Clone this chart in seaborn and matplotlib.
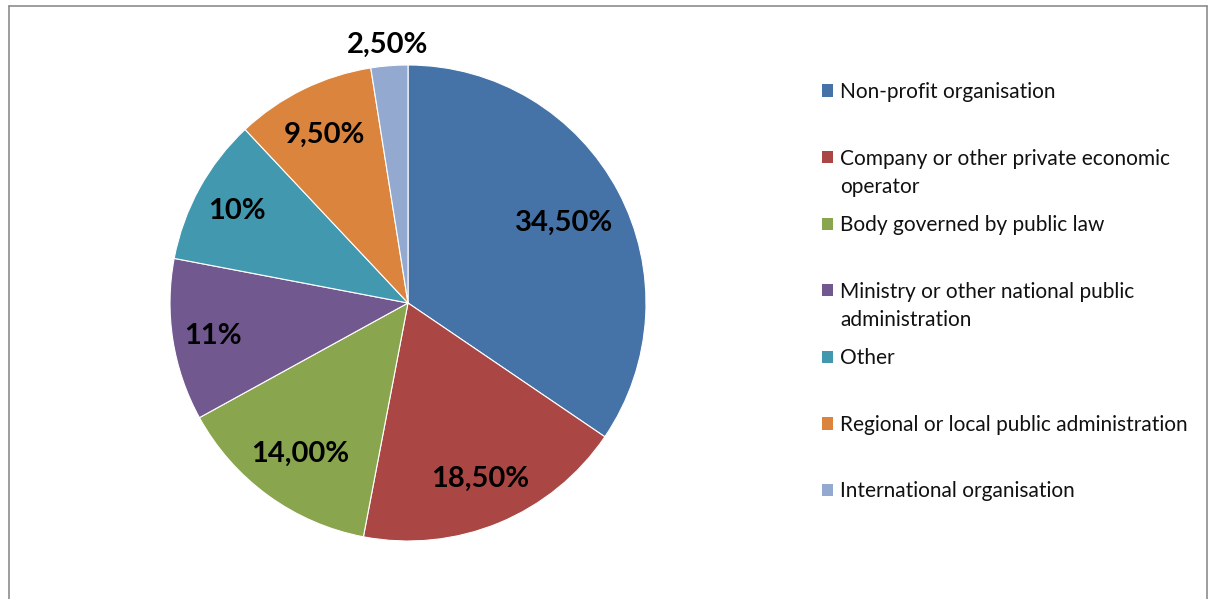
import matplotlib
matplotlib.use("Agg")
import matplotlib.pyplot as plt
import seaborn as sns
import numpy as np
from matplotlib.patches import Patch
from matplotlib.lines import Line2D

categories = [
    "Non-profit organisation",
    "Company or other private economic\noperator",
    "Body governed by public law",
    "Ministry or other national public\nadministration",
    "Other",
    "Regional or local public administration",
    "International organisation",
]
values = [34.5, 18.5, 14.0, 11.0, 10.0, 9.5, 2.5]
value_labels = ["34,50%", "18,50%", "14,00%", "11%", "10%", "9,50%", "2,50%"]
colors = ["#4572A7", "#AA4643", "#89A54E", "#71588F", "#4198AF", "#DB843D", "#93A9CF"]

sns.set_theme(style="white")
plt.rcParams["font.family"] = ["Lato", "DejaVu Sans"]

W, H = 1208, 599
fig = plt.figure(figsize=(W / 100, H / 100), dpi=100)

cx, cy, R = 408, 303, 238
ax = fig.add_axes([(cx - R) / W, (H - cy - R) / H, 2 * R / W, 2 * R / H])
wedges, _ = ax.pie(values, colors=sns.color_palette(colors), startangle=90,
                   counterclock=False, radius=1,
                   wedgeprops=dict(edgecolor="white", linewidth=0.8))
ax.set_xlim(-1, 1)
ax.set_ylim(-1, 1)
ax.set_aspect("equal")
ax.axis("off")

label_r = [0.74, 0.79, 0.77, 0.83, 0.82, 0.80, 1.10]
for w, lab, r in zip(wedges, value_labels, label_r):
    ang = np.deg2rad((w.theta1 + w.theta2) / 2)
    ax.text(r * np.cos(ang), r * np.sin(ang), lab, ha="center",
            va="center_baseline", fontsize=21, fontweight="bold", color="black")

first_lines = [c.split("\n")[0] for c in categories]
handles = [Patch(facecolor=c, edgecolor="none") for c in colors]
fs = 15
leg = fig.legend(handles, first_lines, loc="upper left",
                 bbox_to_anchor=(822 / W, 1 - 82 / H), frameon=False,
                 fontsize=fs, handlelength=0.53, handleheight=0.53,
                 handletextpad=0.34, labelspacing=2.235, borderpad=0,
                 borderaxespad=0)
for t in leg.get_texts():
    t.set_color("#111111")

fig.canvas.draw()
renderer = fig.canvas.get_renderer()
for t, c in zip(leg.get_texts(), categories):
    parts = c.split("\n")
    if len(parts) > 1:
        bb = t.get_window_extent(renderer)
        fig.text(bb.x0 / W, (bb.y0 - 28) / H, parts[1], ha="left", va="bottom",
                 fontsize=fs, color="#111111")

# chart area border (left, top, right)
bc = "#8c8c8c"
fig.add_artist(Line2D([8.5 / W, 8.5 / W], [0, 1 - 5.5 / H], color=bc, lw=1.2,
                      transform=fig.transFigure))
fig.add_artist(Line2D([8.5 / W, 1207 / W], [1 - 5.5 / H, 1 - 5.5 / H], color=bc,
                      lw=1.2, transform=fig.transFigure))
fig.add_artist(Line2D([1207 / W, 1207 / W], [0, 1 - 5.5 / H], color=bc, lw=1.2,
                      transform=fig.transFigure))

fig.savefig("out.png", dpi=100)
